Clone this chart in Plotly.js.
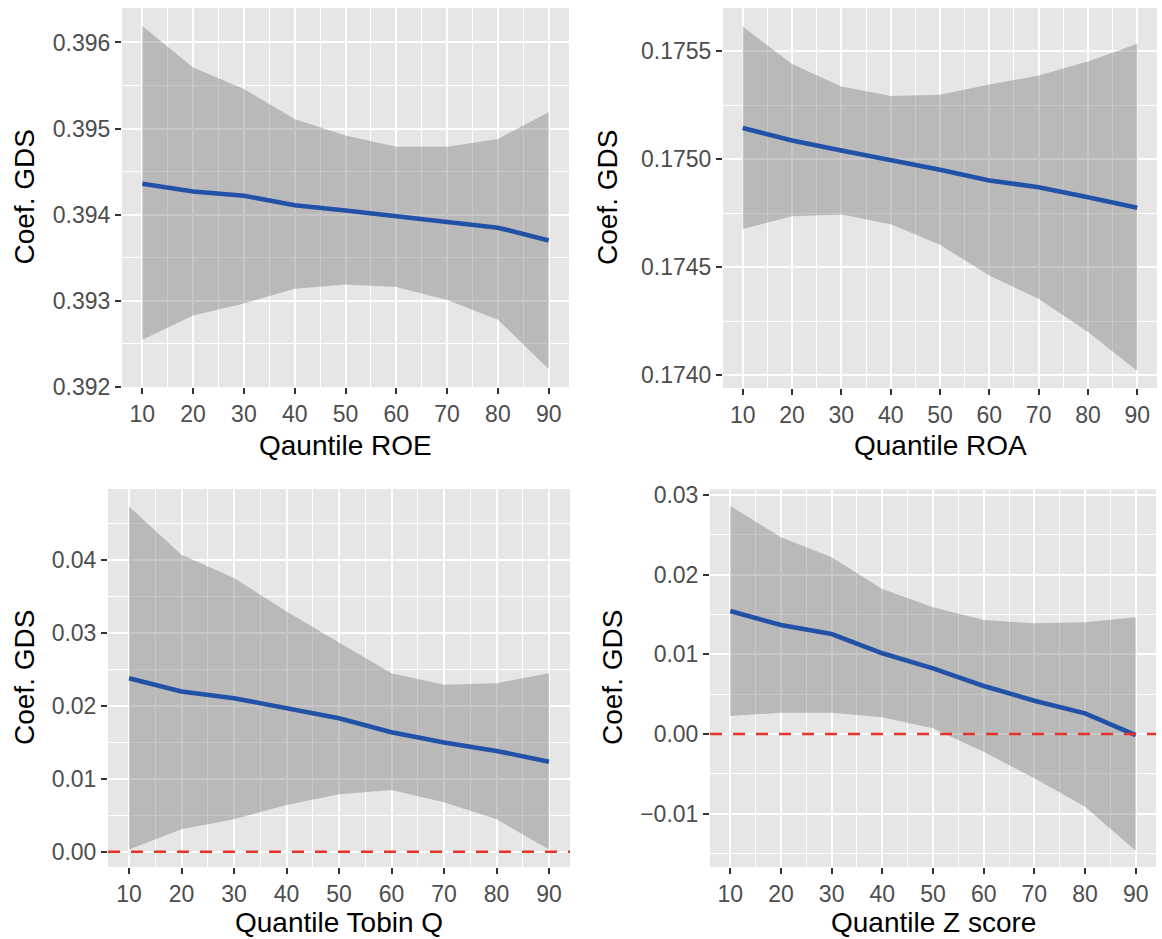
<!DOCTYPE html>
<html>
<head>
<meta charset="utf-8">
<script src="https://cdn.plot.ly/plotly-3.0.1.min.js"></script>
<style>html,body{margin:0;padding:0;background:#fff;}#chart{width:1162px;height:939px;}</style>
</head>
<body>
<div id="chart"></div>
<script>
// ---- data ----
const quantiles = [10, 20, 30, 40, 50, 60, 70, 80, 90];

const roeCoef  = [0.39436, 0.39427, 0.39422, 0.39411, 0.39405, 0.39398, 0.39392, 0.39385, 0.39370];
const roeUpper = [0.39619, 0.39571, 0.39546, 0.39511, 0.39492, 0.39479, 0.39479, 0.39488, 0.39519];
const roeLower = [0.39255, 0.39283, 0.39297, 0.39314, 0.39319, 0.39316, 0.39301, 0.39278, 0.39221];

const roaCoef  = [0.175144, 0.175086, 0.175040, 0.174997, 0.174951, 0.174901, 0.174870, 0.174824, 0.174775];
const roaUpper = [0.175614, 0.175441, 0.175336, 0.175292, 0.175298, 0.175346, 0.175387, 0.175452, 0.175534];
const roaLower = [0.174677, 0.174735, 0.174744, 0.174698, 0.174603, 0.174461, 0.174353, 0.174199, 0.174019];

const tobinCoef  = [0.02377, 0.02194, 0.02103, 0.01966, 0.01829, 0.01637, 0.01495, 0.01381, 0.01234];
const tobinUpper = [0.04731, 0.04069, 0.03749, 0.03291, 0.02866, 0.02446, 0.02286, 0.02309, 0.02446];
const tobinLower = [0.0003, 0.00306, 0.00443, 0.0064, 0.00786, 0.00846, 0.00677, 0.00443, 0.0003];

const zCoef  = [0.01544, 0.01368, 0.01255, 0.01013, 0.00824, 0.00603, 0.00418, 0.00259, -0.00013];
const zUpper = [0.02862, 0.02469, 0.02218, 0.01820, 0.01590, 0.01431, 0.01389, 0.01402, 0.01464];
const zLower = [0.00226, 0.00268, 0.00268, 0.00209, 0.00071, -0.00222, -0.00556, -0.00912, -0.01464];

const xTitles = ["Qauntile ROE", "Quantile ROA", "Quantile Tobin Q", "Quantile Z score"];
const yTitle = "Coef. GDS";

const panels = [
  {c: roeCoef, u: roeUpper, l: roeLower, ticks: [0.392, 0.393, 0.394, 0.395, 0.396], fmt: ".3f", range: [0.39200, 0.39640], minor: 0.0005, minor0: 0.3915, zero: false},
  {c: roaCoef, u: roaUpper, l: roaLower, ticks: [0.1740, 0.1745, 0.1750, 0.1755], fmt: ".4f", range: [0.17394, 0.17570], minor: 0.00025, minor0: 0.17375, zero: false},
  {c: tobinCoef, u: tobinUpper, l: tobinLower, ticks: [0.00, 0.01, 0.02, 0.03, 0.04], fmt: ".2f", range: [-0.0021, 0.0497], minor: 0.005, minor0: -0.005, zero: true},
  {c: zCoef, u: zUpper, l: zLower, ticks: [-0.01, 0.00, 0.01, 0.02, 0.03], fmt: ".2f", range: [-0.01669, 0.03075], minor: 0.005, minor0: -0.015, zero: true}
];

// pixel geometry of each panel [left, right, top, bottom]
const W = 1162, H = 939;
const boxes = [
  [122, 569, 8, 387],
  [723, 1157, 8, 388],
  [108, 570, 489, 867],
  [710, 1156, 489, 867]
];
const yTitleX = [24, 608, 24, 612];
const xTitleY = [445, 445, 922, 922];

const traces = [];
const layout = {
  width: W, height: H,
  margin: {l: 0, r: 0, t: 0, b: 0},
  paper_bgcolor: "#ffffff",
  plot_bgcolor: "#E6E6E6",
  showlegend: false,
  font: {family: "Liberation Sans, Arial, sans-serif", color: "#4D4D4D"},
  annotations: [],
  shapes: []
};

panels.forEach((p, i) => {
  const n = i + 1;
  const xa = n === 1 ? "x" : "x" + n;
  const ya = n === 1 ? "y" : "y" + n;
  traces.push({x: quantiles, y: p.l, xaxis: xa, yaxis: ya, type: "scatter", mode: "lines",
               line: {width: 0, color: "rgba(0,0,0,0)"}, hoverinfo: "skip"});
  traces.push({x: quantiles, y: p.u, xaxis: xa, yaxis: ya, type: "scatter", mode: "lines",
               fill: "tonexty", fillcolor: "rgba(128,128,128,0.44)",
               line: {width: 0, color: "rgba(0,0,0,0)"}, hoverinfo: "skip"});
  const b = boxes[i];
  const axX = {
    domain: [b[0] / W, b[1] / W], anchor: ya,
    range: [6, 94], tickvals: quantiles, ticktext: quantiles.map(String),
    ticks: "outside", ticklen: 6, tickwidth: 2, tickcolor: "#333333",
    tickfont: {size: 23, color: "#4D4D4D"},
    showgrid: true, gridcolor: "#ffffff", gridwidth: 2,
    minor: {dtick: 5, tick0: 5, showgrid: true, gridcolor: "#ffffff", gridwidth: 1, ticks: ""},
    zeroline: false, showline: false, fixedrange: true
  };
  const axY = {
    domain: [1 - b[3] / H, 1 - b[2] / H], anchor: xa,
    range: p.range, tickvals: p.ticks, tickformat: p.fmt,
    ticks: "outside", ticklen: 6, tickwidth: 2, tickcolor: "#333333",
    tickfont: {size: 23, color: "#4D4D4D"},
    showgrid: true, gridcolor: "#ffffff", gridwidth: 2,
    minor: {dtick: p.minor, tick0: p.minor0, showgrid: true, gridcolor: "#ffffff", gridwidth: 1, ticks: ""},
    zeroline: false, showline: false, fixedrange: true
  };
  layout[n === 1 ? "xaxis" : "xaxis" + n] = axX;
  layout[n === 1 ? "yaxis" : "yaxis" + n] = axY;

  if (p.zero) {
    layout.shapes.push({type: "line", xref: xa + " domain", yref: ya, x0: 0, x1: 1, y0: 0, y1: 0,
                        line: {color: "#E8322B", width: 2.5, dash: "12px,11px"}, layer: "above"});
  }

  traces.push({x: quantiles, y: p.c, xaxis: xa, yaxis: ya, type: "scatter", mode: "lines",
               line: {width: 4.6, color: "#2152A8"}});

  layout.annotations.push({text: xTitles[i], xref: "paper", yref: "paper",
    x: (b[0] + b[1]) / 2 / W, y: 1 - xTitleY[i] / H, xanchor: "center", yanchor: "middle",
    showarrow: false, font: {size: 28, color: "#000000"}});
  layout.annotations.push({text: yTitle, xref: "paper", yref: "paper", textangle: -90,
    x: yTitleX[i] / W, y: 1 - (b[2] + b[3]) / 2 / H, xanchor: "center", yanchor: "middle",
    showarrow: false, font: {size: 28, color: "#000000"}});
});

Plotly.newPlot("chart", traces, layout, {displayModeBar: false, staticPlot: true});
</script>
</body>
</html>
